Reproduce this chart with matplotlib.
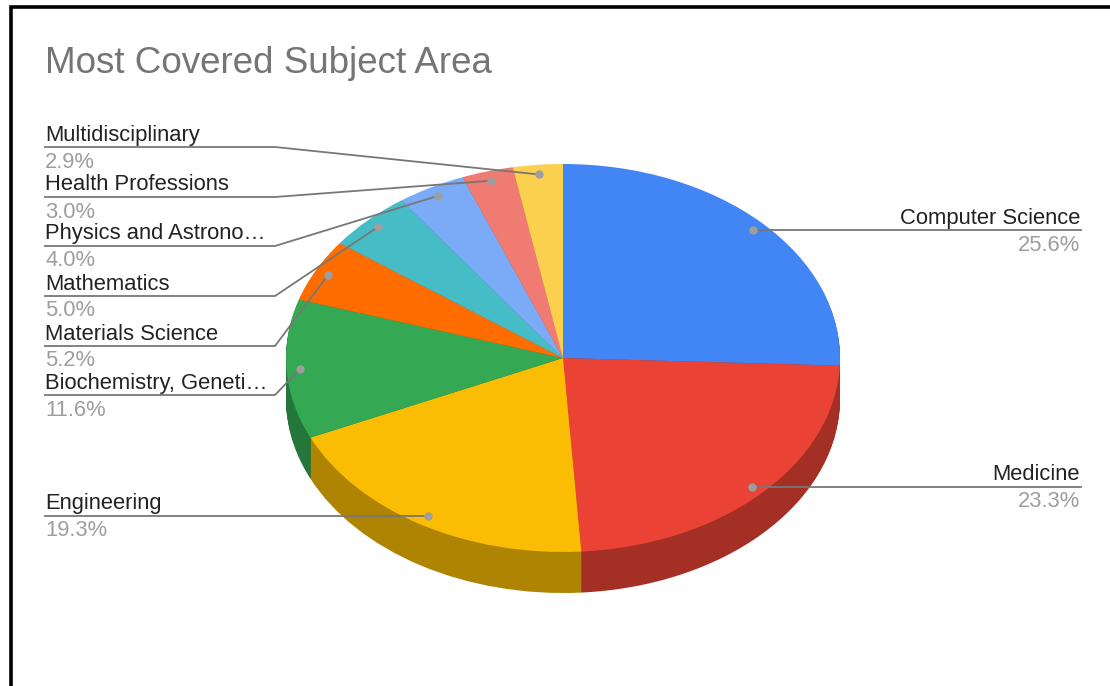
import matplotlib
matplotlib.use("Agg")
import matplotlib.pyplot as plt
import matplotlib.colors as mcolors
from matplotlib.transforms import Affine2D
import numpy as np

plt.rcParams['font.family'] = ['Liberation Sans', 'DejaVu Sans']

# data
categories = ["Computer Science", "Medicine", "Engineering", "Biochemistry, Geneti…",
              "Materials Science", "Mathematics", "Physics and Astrono…",
              "Health Professions", "Multidisciplinary"]
shares = [25.6, 23.3, 19.3, 11.6, 5.2, 5.0, 4.0, 3.0, 2.9]
colors = ["#4285F4", "#EA4335", "#FBBC04", "#34A853", "#FF6D01",
          "#46BDC6", "#7BAAF7", "#F07B72", "#FCD04F"]

TITLE = "Most Covered Subject Area"
TITLE_C = "#757575"
NAME_C = "#222222"
PCT_C = "#9e9e9e"
LINE_C = "#777777"

# pie geometry in pixels (top face ellipse + extrusion depth)
CX, CY, RX, RY, DEPTH = 563, 358, 277, 194, 41

fig = plt.figure(figsize=(11.1, 6.86), dpi=100)
ax = fig.add_axes([0, 0, 1, 1])

def face(offset):
    return Affine2D().scale(RX, -RY).translate(CX, CY + offset)

# side of the cylinder: stacked darker layers
dark = [tuple(np.array(mcolors.to_rgb(c)) * 0.7) for c in colors]
for k in range(DEPTH, 0, -1):
    wedges, _ = ax.pie(shares, colors=dark, startangle=90, counterclock=False,
                       radius=1, wedgeprops=dict(linewidth=0))
    for w in wedges:
        w.set_transform(face(k) + ax.transData)

# top face
wedges, _ = ax.pie(shares, colors=colors, startangle=90, counterclock=False,
                   radius=1, wedgeprops=dict(linewidth=0))
for w in wedges:
    w.set_transform(face(0) + ax.transData)

ax.set_aspect('auto')
ax.set_xlim(0, 1110)
ax.set_ylim(686, 0)
ax.axis('off')

# anchor dots on each slice
vals = np.array(shares)
mids = (np.cumsum(vals) - vals / 2) / vals.sum() * 2 * np.pi
dots = face(0).transform(np.column_stack([0.95 * np.sin(mids), 0.95 * np.cos(mids)]))

# label layout: (side, underline y)
layout = {
    "Computer Science": ("right", None),
    "Medicine": ("right", None),
    "Engineering": ("left", None),
    "Biochemistry, Geneti…": ("left", 395),
    "Materials Science": ("left", 346),
    "Mathematics": ("left", 296),
    "Physics and Astrono…": ("left", 246),
    "Health Professions": ("left", 197),
    "Multidisciplinary": ("left", 147),
}

FS = 15.8
for name, val, (dx, dy) in zip(categories, shares, dots):
    side, uy = layout[name]
    if side == "right":
        uy = dy
        ax.plot([dx, 1081], [uy, uy], color=LINE_C, lw=1.3, zorder=3)
        ax.text(1080, uy - 6.5, name, color=NAME_C, fontsize=FS, ha='right', va='baseline')
        ax.text(1080, uy + 20.5, f"{val:.1f}%", color=PCT_C, fontsize=FS, ha='right', va='baseline')
    else:
        if uy is None:
            uy = dy
            ax.plot([45, dx], [uy, uy], color=LINE_C, lw=1.3, zorder=3)
        else:
            ax.plot([45, 275, dx], [uy, uy, dy], color=LINE_C, lw=1.3, zorder=3)
        ax.text(45, uy - 6.5, name, color=NAME_C, fontsize=FS, ha='left', va='baseline')
        ax.text(45, uy + 20.5, f"{val:.1f}%", color=PCT_C, fontsize=FS, ha='left', va='baseline')
    ax.plot(dx, dy, 'o', color="#9e9e9e", ms=6, mec='none', zorder=4)

ax.text(45, 73, TITLE, color=TITLE_C, fontsize=26.5, ha='left', va='baseline')

# screenshot frame
ax.plot([10.5, 10.5, 1112], [690, 7, 7], color='black', lw=2.6, solid_joinstyle='miter', zorder=5)

fig.savefig('out.png', dpi=100)
